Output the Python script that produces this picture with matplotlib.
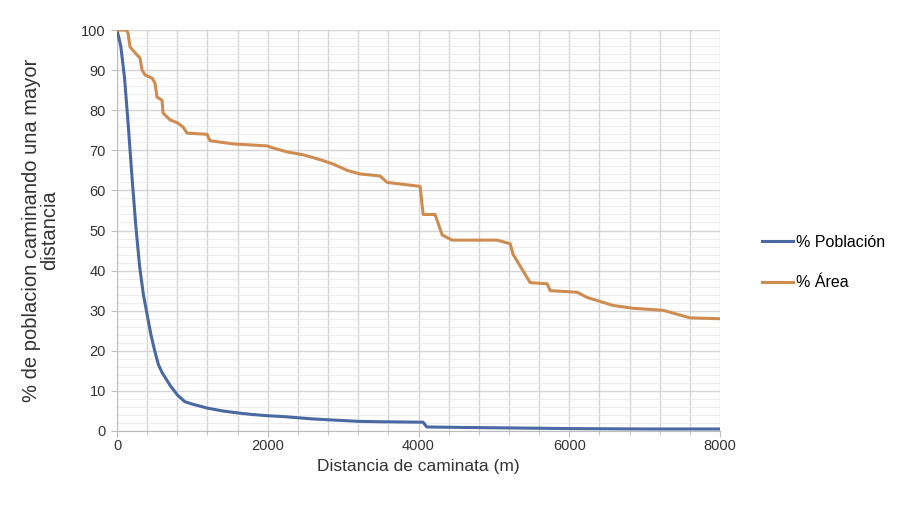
import matplotlib.pyplot as plt
import numpy as np
from matplotlib.ticker import MultipleLocator

# % Población (blue curve)
dist_pob = [0, 50, 100, 150, 200, 250, 300, 350, 400, 450, 500, 550, 600, 700,
            800, 900, 1000, 1200, 1400, 1600, 1800, 2000, 2200, 2400, 2600,
            2800, 3000, 3200, 3500, 4000, 4060, 4110, 4500, 5000, 5500, 6000,
            7000, 8000]
pob = [100, 96, 88, 76, 63, 51, 41, 34, 29, 24, 20, 16.5, 14.5, 11.5,
       9, 7.3, 6.7, 5.7, 5.0, 4.5, 4.1, 3.8, 3.6, 3.3, 3.0,
       2.8, 2.6, 2.4, 2.3, 2.2, 2.2, 1.0, 0.9, 0.8, 0.7, 0.6,
       0.5, 0.5]

# % Área (orange curve)
dist_area = [0, 120, 146, 172, 265, 305, 332, 372, 464, 504, 530, 597, 610,
             703, 809, 876, 929, 1194, 1234, 1540, 1990, 2070, 2256, 2468,
             2654, 2866, 3052, 3225, 3490, 3583, 4021, 4061, 4220, 4313, 4446,
             5043, 5216, 5256, 5481, 5707, 5747, 6105, 6238, 6583, 6848, 7246,
             7604, 8000]
area = [100, 100, 99.3, 95.8, 93.8, 93, 90, 88.8, 88, 86.8, 83.3, 82.5, 79.3,
        77.6, 76.8, 75.8, 74.3, 74.0, 72.4, 71.6, 71.1, 70.6, 69.6, 68.9,
        67.9, 66.6, 65.0, 64.1, 63.6, 62.0, 61.0, 54.0, 54.0, 48.9, 47.6,
        47.6, 46.7, 44.0, 37.0, 36.7, 35.0, 34.6, 33.3, 31.3, 30.6, 30.1,
        28.2, 28.0]

BLUE = '#4a69a3'
ORANGE = '#cf8c50'
FONT = 'Liberation Sans'

fig = plt.figure(figsize=(9.05, 5.18), dpi=100)
ax = fig.add_axes([0.1293, 0.168, 0.6663, 0.774])

ax.plot(dist_pob, pob, color=BLUE, lw=2.2, label='% Población', zorder=3)
ax.plot(dist_area, area, color=ORANGE, lw=2.2, label='% Área', zorder=3)

ax.set_xlim(0, 8000)
ax.set_ylim(0, 100)
ax.xaxis.set_major_locator(MultipleLocator(2000))
ax.xaxis.set_minor_locator(MultipleLocator(400))
ax.yaxis.set_major_locator(MultipleLocator(10))
ax.yaxis.set_minor_locator(MultipleLocator(2))

ax.grid(True, which='major', axis='y', color='#d4d4d4', lw=1.0)
ax.grid(True, which='minor', axis='y', color='#ececec', lw=0.8)
ax.grid(True, which='both', axis='x', color='#d4d4d4', lw=1.0)
ax.set_axisbelow(True)

for s in ['top', 'right']:
  ax.spines[s].set_visible(False)
for s in ['left', 'bottom']:
  ax.spines[s].set_color('#bdbdbd')

ax.tick_params(which='major', length=4, color='#bdbdbd', labelsize=10.5,
               labelcolor='#333333')
ax.tick_params(axis='x', which='major', pad=2)
ax.tick_params(axis='y', which='major', pad=4)
ax.tick_params(axis='y', which='minor', length=0)
ax.tick_params(axis='x', which='minor', length=3, color='#bdbdbd')

for lab in ax.get_xticklabels() + ax.get_yticklabels():
  lab.set_family(FONT)

ax.set_xlabel('Distancia de caminata (m)', fontsize=12.5, color='#333333',
              family=FONT, labelpad=4)
ax.set_ylabel('% de poblacion caminando una mayor\ndistancia', fontsize=14.5,
              color='#333333', family=FONT, labelpad=16,
              linespacing=0.95)

ax.legend(loc='center left', bbox_to_anchor=(1.045, 0.42), frameon=False,
          prop={'family': FONT, 'size': 11.5}, handlelength=2.0,
          handletextpad=0.15, labelspacing=1.6)

plt.savefig('out.png', dpi=100)
plt.close()
